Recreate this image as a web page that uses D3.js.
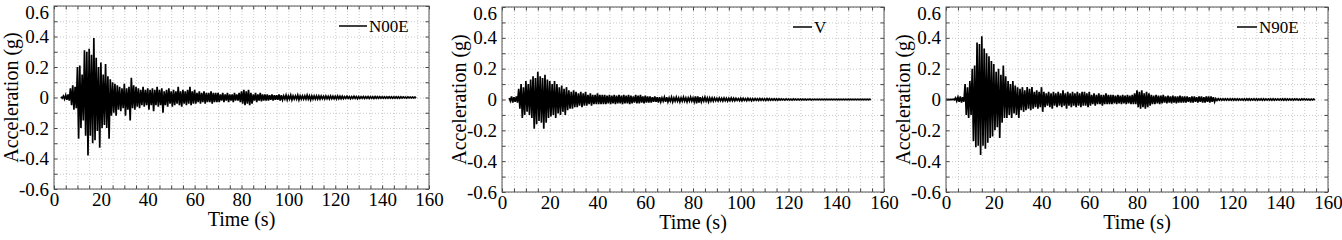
<!DOCTYPE html>
<html lang="en">
<head>
<meta charset="UTF-8">
<title>Acceleration records</title>
<script src="https://cdn.jsdelivr.net/npm/d3@7/dist/d3.min.js"></script>
<style>
  body { margin: 0; background: #fff; }
</style>
</head>
<body>
<svg id="chart" width="1342" height="240"></svg>
<script>
// peak values (g) per 1 s window: positive peak then negative peak
// N00E, starts at t = 3 s
var n00eStart = 3;
var n00ePos = [
  0.005, 0.01, 0.015, 0.02, 0.06, 0.08, 0.07, 0.2, 0.21, 0.15,
  0.31, 0.3, 0.32, 0.28, 0.39, 0.26, 0.2, 0.23, 0.15, 0.22,
  0.14, 0.12, 0.1, 0.09, 0.08, 0.07, 0.06, 0.09, 0.06, 0.07,
  0.13, 0.08, 0.07, 0.06, 0.05, 0.07, 0.05, 0.06, 0.05, 0.06,
  0.05, 0.07, 0.05, 0.06, 0.04, 0.05, 0.06, 0.04, 0.05, 0.04,
  0.07, 0.04, 0.05, 0.04, 0.05, 0.07, 0.04, 0.05, 0.03, 0.04,
  0.03, 0.04, 0.03, 0.03, 0.04, 0.03, 0.03, 0.03, 0.02, 0.03,
  0.02, 0.03, 0.02, 0.02, 0.03, 0.02, 0.03, 0.04, 0.05, 0.04,
  0.05, 0.03, 0.02, 0.03, 0.02, 0.03, 0.02, 0.02, 0.02, 0.015,
  0.02, 0.015, 0.015, 0.02, 0.015, 0.01, 0.015, 0.01, 0.015, 0.01,
  0.01, 0.015, 0.01, 0.01, 0.01, 0.015, 0.01, 0.01, 0.01, 0.01,
  0.01, 0.01, 0.008, 0.01, 0.008, 0.01, 0.008, 0.008, 0.01, 0.008,
  0.008, 0.006, 0.008, 0.006, 0.006, 0.008, 0.006, 0.006, 0.005, 0.006,
  0.005, 0.006, 0.005, 0.005, 0.006, 0.005, 0.005, 0.004, 0.005, 0.004,
  0.005, 0.004, 0.004, 0.005, 0.004, 0.004, 0.004, 0.003, 0.004, 0.003, 0.003, 0.003
];
var n00eNeg = [
  -0.005, -0.01, -0.015, -0.02, -0.05, -0.08, -0.07, -0.27, -0.2, -0.15,
  -0.25, -0.38, -0.25, -0.3, -0.28, -0.22, -0.33, -0.2, -0.18, -0.2,
  -0.27, -0.12, -0.1, -0.12, -0.08, -0.09, -0.07, -0.12, -0.08, -0.15,
  -0.07, -0.08, -0.06, -0.07, -0.05, -0.06, -0.05, -0.08, -0.05, -0.09,
  -0.05, -0.06, -0.05, -0.1, -0.05, -0.06, -0.04, -0.06, -0.05, -0.04,
  -0.05, -0.06, -0.04, -0.05, -0.04, -0.05, -0.04, -0.04, -0.03, -0.04,
  -0.03, -0.04, -0.03, -0.03, -0.04, -0.03, -0.03, -0.03, -0.02, -0.03,
  -0.02, -0.03, -0.02, -0.03, -0.02, -0.02, -0.03, -0.04, -0.05, -0.04,
  -0.05, -0.04, -0.02, -0.03, -0.02, -0.025, -0.02, -0.02, -0.02, -0.015,
  -0.02, -0.015, -0.015, -0.02, -0.015, -0.01, -0.015, -0.01, -0.015, -0.01,
  -0.01, -0.015, -0.01, -0.01, -0.01, -0.01, -0.015, -0.01, -0.01, -0.01,
  -0.01, -0.008, -0.01, -0.008, -0.01, -0.008, -0.008, -0.01, -0.008, -0.008,
  -0.008, -0.006, -0.006, -0.008, -0.006, -0.006, -0.008, -0.006, -0.005, -0.006,
  -0.005, -0.006, -0.005, -0.006, -0.005, -0.005, -0.005, -0.004, -0.005, -0.004,
  -0.004, -0.005, -0.004, -0.004, -0.005, -0.004, -0.003, -0.004, -0.003, -0.003, -0.003, -0.003
];

// V, starts at t = 3 s
var vStart = 3;
var vPos = [
  0.01, 0.02, 0.015, 0.02, 0.07, 0.1, 0.08, 0.12, 0.1, 0.13,
  0.15, 0.14, 0.18, 0.15, 0.14, 0.16, 0.13, 0.12, 0.1, 0.12,
  0.1, 0.08, 0.09, 0.07, 0.08, 0.06, 0.05, 0.06, 0.05, 0.04,
  0.05, 0.04, 0.05, 0.03, 0.04, 0.03, 0.03, 0.04, 0.03, 0.03,
  0.03, 0.025, 0.03, 0.025, 0.03, 0.025, 0.03, 0.025, 0.03, 0.025,
  0.03, 0.025, 0.02, 0.03, 0.025, 0.03, 0.02, 0.025, 0.02, 0.02,
  0.015, 0.02, 0.015, 0.015, 0.01, 0.015, 0.015, 0.01, 0.015, 0.01,
  0.015, 0.01, 0.01, 0.015, 0.01, 0.01, 0.015, 0.01, 0.02, 0.02,
  0.015, 0.01, 0.015, 0.01, 0.01, 0.01, 0.01, 0.008, 0.01, 0.008,
  0.01, 0.008, 0.008, 0.01, 0.008, 0.008, 0.006, 0.008, 0.008, 0.006,
  0.008, 0.006, 0.006, 0.006, 0.005, 0.006, 0.005, 0.005, 0.006, 0.005,
  0.004, 0.005, 0.004, 0.004, 0.004, 0.003, 0.004, 0.003, 0.003, 0.004,
  0.003, 0.003, 0.003, 0.003, 0.003, 0.002, 0.003, 0.002, 0.002, 0.002,
  0.002, 0.002, 0.002, 0.002, 0.002, 0.002, 0.002, 0.002, 0.002, 0.002,
  0.002, 0.002, 0.002, 0.002, 0.002, 0.002, 0.002, 0.002, 0.002, 0.002, 0.002, 0.002
];
var vNeg = [
  -0.01, -0.02, -0.015, -0.02, -0.06, -0.12, -0.1, -0.08, -0.1, -0.12,
  -0.19, -0.16, -0.14, -0.15, -0.19, -0.15, -0.12, -0.11, -0.1, -0.12,
  -0.09, -0.1, -0.08, -0.1, -0.07, -0.06, -0.06, -0.05, -0.05, -0.04,
  -0.05, -0.04, -0.04, -0.03, -0.04, -0.03, -0.03, -0.03, -0.03, -0.03,
  -0.03, -0.025, -0.03, -0.025, -0.03, -0.025, -0.025, -0.03, -0.025, -0.025,
  -0.03, -0.025, -0.02, -0.025, -0.025, -0.02, -0.025, -0.02, -0.02, -0.02,
  -0.015, -0.015, -0.02, -0.015, -0.01, -0.015, -0.015, -0.01, -0.015, -0.01,
  -0.01, -0.015, -0.01, -0.01, -0.015, -0.01, -0.01, -0.015, -0.025, -0.02,
  -0.015, -0.01, -0.01, -0.015, -0.01, -0.01, -0.008, -0.01, -0.008, -0.01,
  -0.008, -0.01, -0.008, -0.008, -0.008, -0.006, -0.008, -0.008, -0.006, -0.008,
  -0.006, -0.008, -0.006, -0.005, -0.006, -0.005, -0.005, -0.006, -0.005, -0.005,
  -0.004, -0.004, -0.005, -0.004, -0.003, -0.004, -0.003, -0.003, -0.004, -0.003,
  -0.003, -0.003, -0.003, -0.003, -0.003, -0.002, -0.003, -0.002, -0.002, -0.002,
  -0.002, -0.002, -0.002, -0.002, -0.002, -0.002, -0.002, -0.002, -0.002, -0.002,
  -0.002, -0.002, -0.002, -0.002, -0.002, -0.002, -0.002, -0.002, -0.002, -0.002, -0.002, -0.002
];

// N90E, starts at t = 0 s
var n90eStart = 0;
var n90ePos = [
  0.001, 0.001, 0.001, 0.002, 0.01, 0.015, 0.02, 0.015, 0.1, 0.08,
  0.12, 0.2, 0.22, 0.37, 0.36, 0.41, 0.33, 0.3, 0.28, 0.25,
  0.23, 0.18, 0.2, 0.16, 0.22, 0.15, 0.12, 0.1, 0.12, 0.09,
  0.08, 0.07, 0.08, 0.06, 0.08, 0.07, 0.08, 0.05, 0.06, 0.05,
  0.08, 0.05, 0.04, 0.05, 0.04, 0.05, 0.04, 0.05, 0.04, 0.06,
  0.04, 0.05, 0.04, 0.05, 0.04, 0.05, 0.04, 0.05, 0.05, 0.04,
  0.05, 0.03, 0.04, 0.03, 0.04, 0.03, 0.03, 0.04, 0.03, 0.03,
  0.03, 0.025, 0.03, 0.025, 0.03, 0.025, 0.03, 0.025, 0.03, 0.04,
  0.06, 0.05, 0.06, 0.04, 0.05, 0.04, 0.03, 0.025, 0.03, 0.025,
  0.025, 0.03, 0.02, 0.025, 0.02, 0.025, 0.02, 0.02, 0.025, 0.02,
  0.02, 0.02, 0.015, 0.02, 0.02, 0.015, 0.02, 0.02, 0.015, 0.02,
  0.02, 0.02, 0.015, 0.006, 0.005, 0.005, 0.004, 0.005, 0.005, 0.004,
  0.005, 0.004, 0.005, 0.004, 0.004, 0.005, 0.004, 0.005, 0.004, 0.004,
  0.005, 0.004, 0.004, 0.005, 0.004, 0.004, 0.004, 0.005, 0.004, 0.004,
  0.004, 0.004, 0.005, 0.004, 0.004, 0.004, 0.004, 0.004, 0.003, 0.004,
  0.004, 0.003, 0.003, 0.003, 0.003
];
var n90eNeg = [
  -0.001, -0.001, -0.001, -0.002, -0.01, -0.015, -0.02, -0.015, -0.1, -0.12,
  -0.1, -0.27, -0.31, -0.3, -0.36, -0.3, -0.32, -0.28, -0.25, -0.24,
  -0.2, -0.18, -0.25, -0.15, -0.12, -0.12, -0.1, -0.12, -0.09, -0.1,
  -0.12, -0.07, -0.08, -0.07, -0.06, -0.07, -0.06, -0.05, -0.06, -0.05,
  -0.08, -0.05, -0.04, -0.05, -0.06, -0.04, -0.05, -0.04, -0.05, -0.04,
  -0.06, -0.04, -0.05, -0.04, -0.05, -0.04, -0.05, -0.04, -0.04, -0.05,
  -0.04, -0.03, -0.04, -0.03, -0.03, -0.04, -0.03, -0.03, -0.03, -0.03,
  -0.025, -0.03, -0.025, -0.03, -0.025, -0.03, -0.025, -0.03, -0.03, -0.03,
  -0.05, -0.06, -0.05, -0.06, -0.05, -0.04, -0.03, -0.03, -0.025, -0.03,
  -0.025, -0.02, -0.025, -0.02, -0.025, -0.02, -0.025, -0.02, -0.02, -0.02,
  -0.02, -0.015, -0.02, -0.02, -0.015, -0.02, -0.015, -0.02, -0.02, -0.015,
  -0.02, -0.015, -0.015, -0.006, -0.004, -0.005, -0.004, -0.004, -0.005, -0.004,
  -0.004, -0.005, -0.004, -0.004, -0.004, -0.005, -0.004, -0.004, -0.004, -0.005,
  -0.004, -0.004, -0.005, -0.004, -0.004, -0.004, -0.005, -0.004, -0.004, -0.004,
  -0.004, -0.005, -0.004, -0.004, -0.004, -0.004, -0.003, -0.004, -0.004, -0.003,
  -0.003, -0.003, -0.004, -0.003, -0.003
];

var names = ["N00E", "V", "N90E"];
var xTicks = [0, 20, 40, 60, 80, 100, 120, 140, 160];
var yTicks = [-0.6, -0.4, -0.2, 0, 0.2, 0.4, 0.6];
var xLabel = "Time (s)";
var yLabel = "Acceleration (g)";

var series = [
  {start: n00eStart, pos: n00ePos, neg: n00eNeg},
  {start: vStart, pos: vPos, neg: vNeg},
  {start: n90eStart, pos: n90ePos, neg: n90eNeg}
];

// panel boxes in page pixels
var boxes = [
  {left: 54, right: 429, top: 6, bottom: 189, legX: 339, legLen: 28, legY: 26},
  {left: 502, right: 884, top: 7, bottom: 192, legX: 793, legLen: 19, legY: 27},
  {left: 946, right: 1328, top: 7, bottom: 192, legX: 1237, legLen: 20, legY: 27}
];

var FONT = '"Liberation Serif", "Times New Roman", Times, serif';

var svg = d3.select('#chart').attr('font-family', FONT);
svg.append('rect').attr('width', 1342).attr('height', 240).attr('fill', '#fff');

series.forEach(function (s, k) {
  var b = boxes[k];
  var w = b.right - b.left, h = b.bottom - b.top;
  var x = d3.scaleLinear().domain([0, 160]).range([0, w]);
  var y = d3.scaleLinear().domain([-0.6, 0.6]).range([h, 0]);
  var g = svg.append('g').attr('transform', 'translate(' + b.left + ',' + b.top + ')');

  // dotted grid every 5 s and 0.1 g
  var minorX = d3.range(0, 161, 5), minorY = d3.range(-6, 7).map(function (d) { return d / 10; });
  g.append('g').attr('class', 'grid')
    .attr('transform', 'translate(0,' + h + ')')
    .call(d3.axisBottom(x).tickValues(minorX).tickSize(-h).tickFormat(''));
  g.append('g').attr('class', 'grid')
    .call(d3.axisLeft(y).tickValues(minorY).tickSize(-w).tickFormat(''));
  g.selectAll('.grid .domain').remove();
  g.selectAll('.grid line').attr('stroke', '#bdbdbd').attr('stroke-width', 0.8).attr('stroke-dasharray', '1,2');

  // record, drawn as zigzag between the peaks
  var pts = [];
  s.pos.forEach(function (p, i) {
    pts.push([s.start + i, p]);
    pts.push([s.start + i + 0.5, s.neg[i]]);
  });
  var line = d3.line().x(function (d) { return x(d[0]); }).y(function (d) { return y(d[1]); });
  g.append('path').datum(pts)
    .attr('fill', 'none').attr('stroke', '#000').attr('stroke-width', 1.7)
    .attr('d', line);

  // inward minor ticks on all four sides
  var tl = 3.5;
  var axes = [
    g.append('g').attr('transform', 'translate(0,' + h + ')').call(d3.axisBottom(x).tickValues(minorX).tickSize(-tl).tickFormat('')),
    g.append('g').call(d3.axisTop(x).tickValues(minorX).tickSize(-tl).tickFormat('')),
    g.append('g').call(d3.axisLeft(y).tickValues(minorY).tickSize(-tl).tickFormat('')),
    g.append('g').attr('transform', 'translate(' + w + ',0)').call(d3.axisRight(y).tickValues(minorY).tickSize(-tl).tickFormat(''))
  ];
  axes.forEach(function (a) {
    a.select('.domain').remove();
    a.selectAll('line').attr('stroke', '#444');
  });

  // frame
  g.append('rect').attr('width', w).attr('height', h)
    .attr('fill', 'none').attr('stroke', '#555').attr('stroke-width', 1);

  // tick labels
  var xa = g.append('g').attr('transform', 'translate(0,' + h + ')')
    .call(d3.axisBottom(x).tickValues(xTicks).tickSize(0).tickPadding(3).tickFormat(d3.format('d')));
  var ya = g.append('g')
    .call(d3.axisLeft(y).tickValues(yTicks).tickSize(0).tickPadding(5)
      .tickFormat(function (d) { return d === 0 ? '0' : d.toFixed(1); }));
  [xa, ya].forEach(function (a) {
    a.attr('font-family', FONT).attr('font-size', 19);
    a.select('.domain').remove();
    a.selectAll('text').attr('fill', '#000');
  });
  // top label sits a little lower so it stays on the page
  ya.selectAll('.tick').filter(function (d) { return d === 0.6; })
    .select('text').attr('dy', '0.66em');

  // axis titles
  g.append('text').attr('x', w / 2).attr('y', h + 37)
    .attr('text-anchor', 'middle').attr('font-size', 20).attr('font-family', FONT).text(xLabel);
  g.append('text').attr('transform', 'translate(-36.5,' + (h / 2) + ') rotate(-90)')
    .attr('text-anchor', 'middle').attr('font-size', 20).attr('font-family', FONT).text(yLabel);

  // legend
  svg.append('line')
    .attr('x1', b.legX).attr('x2', b.legX + b.legLen)
    .attr('y1', b.legY).attr('y2', b.legY)
    .attr('stroke', '#000').attr('stroke-width', 1.5);
  svg.append('text').attr('x', b.legX + b.legLen + 2).attr('y', b.legY).attr('dy', '0.35em')
    .attr('font-size', 17).attr('font-family', FONT).text(names[k]);
});
</script>
</body>
</html>
